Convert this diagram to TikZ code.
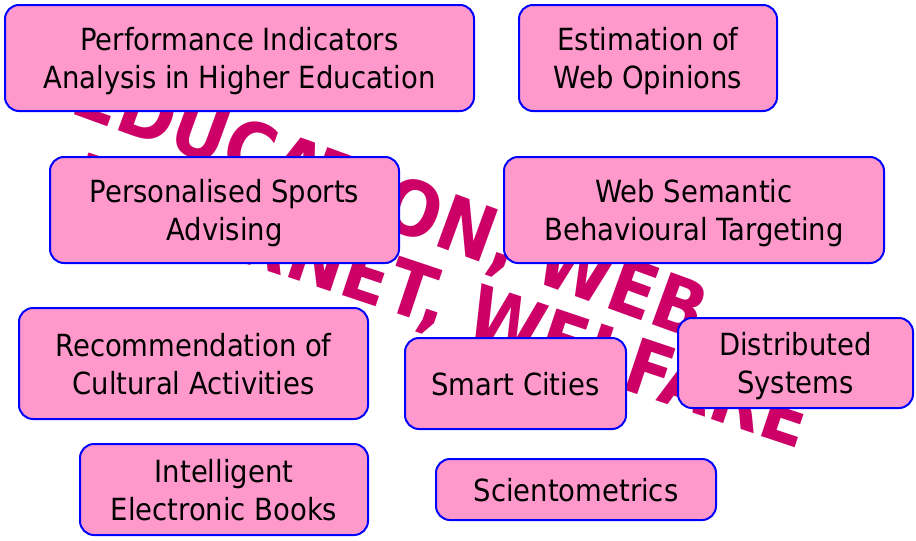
\documentclass[tikz,border=0pt]{standalone}
\usepackage{fontspec}
\setmainfont{DejaVu Sans Condensed}
\definecolor{topicpink}{RGB}{255,153,204}
\definecolor{bannerred}{RGB}{204,0,102}
\begin{document}
\begin{tikzpicture}[
		x=1pt,y=-1pt,
		topic/.style={draw=blue,line width=2pt,fill=topicpink,rounded corners=14pt,
				align=center,inner sep=0pt,text depth=0pt,font=\fontsize{30.5}{38}\selectfont},
		banner/.style={text=bannerred,rotate=-20,inner sep=0pt,
				font=\bfseries\fontsize{76}{76}\selectfont}
	]
	\useasboundingbox (0,0) rectangle (916,541);
	% background words
	\node[banner,anchor=base west] (edu) at (68,112) {EDUCATION, WEB,};
	\node[banner,rotate=1.5,anchor=base east] (net) at (800,449) {INTERNET, WELFARE};
	% topics
	\node[topic,minimum width=469pt,minimum height=106pt] (perf) at (239.5,58)
	{Performance Indicators\\Analysis in Higher Education};
	\node[topic,minimum width=258pt,minimum height=106pt] (opin) at (648,58)
	{Estimation of\\Web Opinions};
	\node[topic,minimum width=349pt,minimum height=106pt] (sport) at (224.5,210)
	{Personalised Sports\\Advising};
	\node[topic,minimum width=380pt,minimum height=106pt] (target) at (694,210)
	{Web Semantic\\Behavioural Targeting};
	\node[topic,minimum width=349pt,minimum height=111pt] (cult) at (193.5,363.5)
	{Recommendation of\\Cultural Activities};
	\node[topic,minimum width=221pt,minimum height=91pt] (city) at (515.5,383.5)
	{Smart Cities};
	\node[topic,minimum width=235pt,minimum height=90pt] (dist) at (795.5,363)
	{Distributed\\Systems};
	\node[topic,minimum width=288pt,minimum height=91pt] (book) at (224,489.5)
	{Intelligent\\Electronic Books};
	\node[topic,minimum width=280pt,minimum height=61pt] (scien) at (576,489.5)
	{Scientometrics};
\end{tikzpicture}
\end{document}
